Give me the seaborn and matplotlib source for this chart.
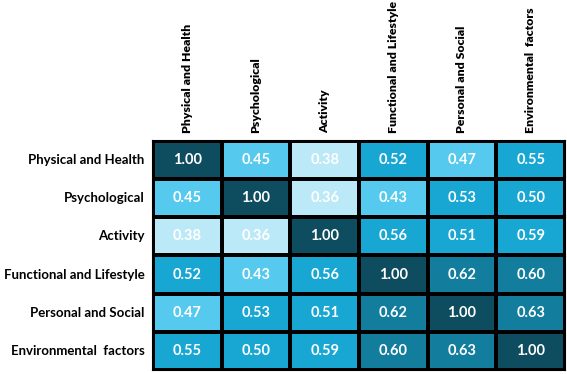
import matplotlib
matplotlib.use("Agg")
import matplotlib.pyplot as plt
import seaborn as sns
import numpy as np
from matplotlib.colors import ListedColormap, BoundaryNorm

# domain labels (rows and columns are the same)
row_labels = ['Physical and Health', 'Psychological', 'Activity',
              'Functional and Lifestyle', 'Personal and Social', 'Environmental  factors']
col_labels = ['Physical and Health', 'Psychological', 'Activity',
              'Functional and Lifestyle', 'Personal and Social', 'Environmental  factors']

# correlation values
r_physical = [1.00, 0.45, 0.38, 0.52, 0.47, 0.55]
r_psych = [0.45, 1.00, 0.36, 0.43, 0.53, 0.50]
r_activity = [0.38, 0.36, 1.00, 0.56, 0.51, 0.59]
r_functional = [0.52, 0.43, 0.56, 1.00, 0.62, 0.60]
r_personal = [0.47, 0.53, 0.51, 0.62, 1.00, 0.63]
r_environment = [0.55, 0.50, 0.59, 0.60, 0.63, 1.00]

corr = np.array([r_physical, r_psych, r_activity, r_functional, r_personal, r_environment])

# stepped blue palette, one colour per band
colors = ['#BCE9F7', '#55C9EE', '#18A7D3', '#137D9E', '#0E4D5F']
bounds = [0.3, 0.4, 0.5, 0.6, 0.7, 1.01]
cmap = ListedColormap(colors)
norm = BoundaryNorm(bounds, cmap.N)

fig = plt.figure(figsize=(5.67, 3.74), dpi=100)
ax = fig.add_axes([153 / 567, 1 - 370 / 374, 412 / 567, 229 / 374])

sns.heatmap(corr, annot=True, fmt='.2f', cmap=cmap, norm=norm, cbar=False,
            linewidths=1.5, linecolor='black',
            xticklabels=col_labels, yticklabels=row_labels,
            annot_kws={'size': 10.5, 'weight': 'bold', 'color': 'white', 'family': 'Lato'},
            ax=ax)

ax.xaxis.tick_top()
ax.tick_params(length=0, pad=6)
for t in ax.get_xticklabels():
    t.set_fontfamily('Lato')
    t.set_fontweight('heavy')
    t.set_fontsize(8.8)
    t.set_rotation(90)
    t.set_ha('center')
    t.set_va('bottom')
for t in ax.get_yticklabels():
    t.set_fontfamily('Lato')
    t.set_fontweight('bold')
    t.set_fontsize(9.5)
    t.set_rotation(0)
    t.set_ha('right')
    t.set_va('center')

# outer frame
for s in ax.spines.values():
    s.set_visible(True)
    s.set_linewidth(1.5)
    s.set_color('black')

fig.savefig('out.png', dpi=100)
